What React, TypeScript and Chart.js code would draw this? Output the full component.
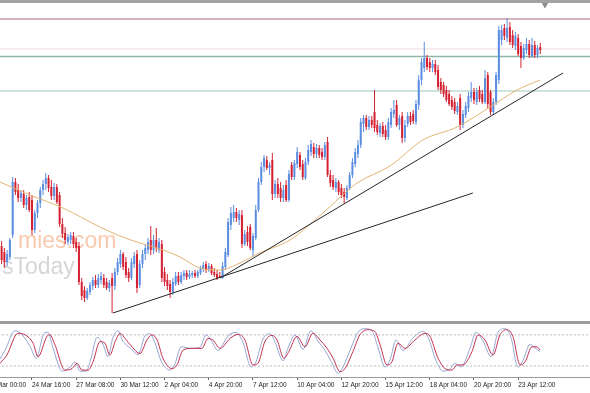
import { useEffect, useRef } from "react";
import { Chart, registerables } from "chart.js";

Chart.register(...registerables);

// ---- price data (H4 candles), values in chart points ----
const opens = [80,84,78,68,73,95,148,140,132,136,125,133,130,100,117,127,140,146,152,143,134,143,135,106,97,88,90,94,88,84,48,40,32,38,44,50,45,50,52,48,42,52,44,58,66,76,68,58,52,66,76,45,66,76,80,90,80,90,80,86,58,50,46,38,46,54,48,54,57,53,55,57,54,57,61,66,60,64,58,56,54,52,63,75,105,112,118,110,115,86,98,103,80,92,120,148,163,170,162,170,136,146,142,132,145,130,165,153,166,175,166,152,168,178,183,176,182,178,173,188,155,150,142,148,142,138,132,142,155,166,176,185,206,212,203,210,218,205,197,204,200,193,205,216,225,205,214,192,206,214,216,208,225,250,262,272,268,262,266,260,248,245,240,236,230,228,218,232,205,215,222,232,238,228,240,236,228,255,238,218,228,250,290,302,292,303,295,284,292,284,272,280,286,274,285,275,283];
const highs = [85,89,82,80,92,153,152,146,140,140,135,138,135,120,130,143,150,157,155,150,147,146,138,112,103,96,98,98,92,88,52,44,42,48,53,55,56,58,56,52,50,57,62,72,80,78,73,62,72,78,80,70,80,86,92,104,95,102,92,90,63,56,50,52,58,58,58,60,60,60,59,60,60,64,68,69,67,66,62,60,58,68,82,112,123,125,122,120,120,100,104,106,97,125,152,168,175,174,168,177,150,152,148,145,150,160,168,170,183,178,170,172,185,190,187,186,185,182,188,193,160,155,152,150,146,142,145,158,172,182,190,212,215,215,214,214,240,210,207,208,205,212,222,230,230,215,218,210,218,218,220,230,255,272,288,275,272,270,270,265,252,248,244,240,234,232,228,236,220,228,238,248,242,242,244,240,260,258,240,232,258,304,305,306,312,308,300,298,296,288,286,292,290,292,289,285,287];
const lows = [68,66,62,64,70,92,135,128,128,122,120,118,95,97,112,122,135,140,138,130,130,126,103,92,86,85,86,82,78,45,30,28,30,35,40,42,42,46,42,40,38,17,40,55,62,60,52,48,50,62,37,42,62,70,76,75,76,78,77,48,44,40,32,35,44,45,46,50,50,51,52,52,52,55,58,57,58,55,53,50,52,51,60,73,100,108,108,105,82,84,84,80,73,90,118,145,158,160,155,130,132,132,128,128,128,128,150,150,162,160,150,150,165,174,172,172,172,170,170,153,143,140,138,135,132,127,130,140,152,163,172,182,198,200,200,202,198,195,193,193,190,190,202,212,203,200,187,188,203,205,206,205,220,245,258,260,258,258,255,240,236,233,228,224,220,216,215,200,202,212,218,228,226,225,228,226,226,222,215,215,225,246,285,290,288,285,282,280,274,262,270,276,272,272,272,272,276];
const closes = [72,70,68,76,90,148,138,132,137,125,132,120,100,117,127,140,146,152,142,134,143,128,106,96,90,93,95,86,82,48,34,32,39,45,50,45,52,54,45,42,47,44,58,68,76,63,55,52,68,74,42,66,76,82,88,80,90,82,88,52,48,44,38,48,54,48,55,57,53,56,57,54,58,62,65,60,64,57,55,52,53,64,78,108,117,118,112,116,86,96,88,82,94,120,148,163,172,162,165,136,146,136,132,140,130,156,153,167,178,163,153,168,180,186,176,182,175,173,185,155,147,143,148,138,135,133,142,155,168,178,185,208,212,203,210,205,202,198,204,196,193,208,218,220,205,212,192,205,214,208,209,226,250,268,272,263,262,266,258,243,240,236,230,226,223,219,224,205,216,224,234,238,230,238,231,228,252,226,218,228,255,300,300,294,302,288,285,294,276,272,282,286,275,285,275,282,280];

// moving average: [bar, value]
const movingAverage: [number, number][] = [[0.4,148],[11.3,135],[23.2,122],[36.6,103],[43.9,94],[51.1,87],[59.4,80],[65.6,73],[72.8,62],[80.1,60],[87.3,67],[93.5,76],[105.4,90],[117.3,117],[129.7,147],[141.6,164],[153.5,190],[165.9,203],[177.8,223],[187.6,240],[195.9,250]];

// trend lines: [bar, value]
const trendLower: [number, number][] = [[41.3,17],[171.6,137]];
const trendUpper: [number, number][] = [[80.1,52],[204.2,257]];

// horizontal levels
const levelValues = [311, 281, 273.5, 239];

// stochastic oscillator: [bar, value]
const stochMain: [number, number][] = [[0,30],[2.2,50],[5.9,88],[8.4,80],[11.3,58],[13.5,35],[16.3,82],[17.8,85],[19.6,55],[22.9,10],[25.8,18],[27.6,28],[29.4,10],[31.6,10],[33.4,35],[35.5,75],[37.7,62],[39.5,38],[41.3,75],[43.1,88],[44.9,68],[47.5,55],[50.4,42],[52.9,78],[54.7,82],[56.5,65],[58.7,30],[62,12],[63.8,25],[66,57],[69.6,54],[72.8,56],[75,80],[76.8,70],[79.3,50],[83,78],[85.8,85],[88.4,65],[91.3,18],[93.1,28],[95.6,72],[98.2,82],[100,66],[102.9,30],[104.7,55],[107.2,80],[110.1,52],[113,88],[115.5,68],[118.1,50],[120.2,30],[122.8,6],[124.6,18],[127.5,55],[130,85],[132.9,92],[135.4,85],[137.3,55],[139.8,18],[141.6,32],[143.8,70],[146.3,50],[149.9,74],[153.5,87],[155.4,75],[158.3,30],[160.8,10],[163.3,14],[165.1,25],[167.3,18],[170.6,55],[172.7,85],[175.3,68],[178.2,38],[180.7,85],[183.2,92],[185.4,75],[187.9,18],[189.7,30],[192.3,62],[194.1,55],[195.9,48]];
const stochSignal: [number, number][] = [[0.4,25],[2.9,41],[6.9,83],[9.5,80],[12.4,64],[14.2,38],[17.4,77],[18.5,80],[20.3,61],[23.9,12],[26.5,15],[28.3,25],[30.1,12],[32.3,12],[34.1,28],[36.6,67],[38.4,64],[40.2,41],[42.1,67],[43.9,83],[45.7,73],[48.2,57],[51.1,44],[53.6,70],[55.4,80],[57.3,70],[59.4,35],[62.7,15],[64.5,22],[66.7,51],[70.3,54],[73.5,54],[75.7,73],[77.5,70],[80.1,54],[83.7,73],[86.6,81],[89.1,70],[92.0,22],[93.8,25],[96.3,67],[98.9,79],[100.7,70],[103.2,35],[105.0,48],[107.9,77],[110.8,57],[113.7,83],[116.3,70],[118.8,54],[121.0,35],[123.5,9],[125.3,15],[128.2,48],[130.7,80],[133.6,90],[136.2,86],[138.0,61],[140.5,22],[142.3,28],[144.5,64],[147.0,54],[150.6,70],[154.3,83],[156.1,77],[159.0,35],[161.5,15],[164.0,12],[165.9,22],[168.0,22],[171.3,48],[173.5,80],[176.0,70],[178.9,41],[181.4,80],[183.9,90],[186.1,77],[188.7,22],[190.5,28],[193.0,57],[194.8,57],[195.9,51]];
const stochLevels = [20, 80];

// time axis
const timeTickBars = [-4, 12, 28, 44, 60, 76, 92, 108, 124, 140, 156, 172, 188];
const timeTickLabels = ["22 Mar 00:00", "24 Mar 16:00", "27 Mar 08:00", "30 Mar 12:00", "2 Apr 04:00", "4 Apr 20:00", "7 Apr 12:00", "10 Apr 04:00", "12 Apr 20:00", "15 Apr 12:00", "18 Apr 04:00", "20 Apr 20:00", "23 Apr 12:00"];

const watermarkTop = "mies.com";
const watermarkBottom = "sToday";

const X_MIN = 0.42;
const X_MAX = 214.0;

export default function App() {
  const mainRef = useRef<HTMLCanvasElement>(null);
  const subRef = useRef<HTMLCanvasElement>(null);

  useEffect(() => {
    const bull = "#5b8de0";
    const bear = "#d42232";
    const colors = opens.map((o, i) => (closes[i] >= o ? bull : bear));
    const levelColors = ["#c99aab", "#f0d9e1", "#8db5a8", "#9dcabb"];
    const levelWidths = [1.6, 1, 1.3, 1.2];
    const font = '"Liberation Sans", Arial, sans-serif';

    const watermark = {
      id: "watermark",
      beforeDatasetsDraw(chart: any) {
        const ctx = chart.ctx;
        ctx.save();
        ctx.font = `23px ${font}`;
        ctx.textBaseline = "alphabetic";
        ctx.fillStyle = "rgba(244,165,118,0.6)";
        ctx.fillText(watermarkTop, 18, 245);
        ctx.fillStyle = "rgba(165,165,165,0.45)";
        ctx.fillText(watermarkBottom, 2, 271);
        ctx.restore();
      },
    };

    const lineDs = (data: [number, number][], color: string, width: number, order: number, extra: any = {}) => ({
      type: "line" as const,
      data: data.map(([x, y]) => ({ x, y })),
      borderColor: color,
      borderWidth: width,
      pointRadius: 0,
      pointHoverRadius: 0,
      fill: false,
      order,
      ...extra,
    });

    const bars = opens.map((_, i) => i);

    const main = new Chart(mainRef.current!, {
      type: "bar",
      data: {
        datasets: [
          ...levelValues.map((v, k) =>
            lineDs([[X_MIN - 5, v], [X_MAX + 5, v]], levelColors[k], levelWidths[k], 10)
          ),
          {
            type: "bar",
            data: bars.map((i) => ({ x: i, y: [lows[i], highs[i]] })),
            backgroundColor: colors,
            barThickness: 1,
            grouped: false,
            inflateAmount: 0,
            order: 3,
          },
          {
            type: "bar",
            data: bars.map((i) => ({ x: i, y: [opens[i], closes[i]] })),
            backgroundColor: colors,
            barThickness: 2,
            minBarLength: 1,
            grouped: false,
            inflateAmount: 0,
            order: 2,
          },
          lineDs(movingAverage, "#e3b473", 1, 1, { tension: 0.4, cubicInterpolationMode: "monotone" }),
          lineDs(trendLower, "#262626", 1, 0),
          lineDs(trendUpper, "#262626", 1, 0),
          {
            type: "line",
            data: [{ x: 197.7, y: 325.3 }],
            showLine: false,
            pointStyle: "triangle",
            rotation: 180,
            pointRadius: 3,
            pointHoverRadius: 3,
            backgroundColor: "#8a8a8a",
            borderColor: "#8a8a8a",
            order: 0,
          },
        ] as any,
      },
      options: {
        responsive: false,
        animation: false,
        events: [],
        layout: { padding: 0, autoPadding: false },
        plugins: { legend: { display: false }, tooltip: { enabled: false } },
        scales: {
          x: { type: "linear", min: X_MIN, max: X_MAX, display: false, offset: false },
          y: { min: 9, max: 327, display: false },
        },
      } as any,
      plugins: [watermark],
    });

    const sub = new Chart(subRef.current!, {
      type: "line",
      data: {
        datasets: [
          ...stochLevels.map((v) =>
            lineDs([[X_MIN - 5, v], [X_MAX + 5, v]], "#b9b9b9", 1, 3, { borderDash: [2, 2] })
          ),
          lineDs(stochMain, "#97a6d2", 1, 2, { tension: 0.4, cubicInterpolationMode: "monotone" }),
          lineDs(stochSignal, "#c2304f", 1, 1, { tension: 0.4, cubicInterpolationMode: "monotone" }),
        ] as any,
      },
      options: {
        responsive: false,
        animation: false,
        events: [],
        layout: { padding: 0, autoPadding: false },
        plugins: { legend: { display: false }, tooltip: { enabled: false } },
        scales: {
          x: {
            type: "linear",
            min: X_MIN,
            max: X_MAX,
            offset: false,
            position: "bottom",
            afterBuildTicks: (s: any) => {
              s.ticks = timeTickBars.map((v) => ({ value: v }));
            },
            afterFit: (s: any) => {
              s.height = 16;
              s.paddingLeft = 0;
              s.paddingRight = 0;
            },
            grid: { display: true, drawOnChartArea: false, drawTicks: true, tickLength: 3, color: "#666" },
            border: { display: true, color: "#9a9a9a" },
            ticks: {
              autoSkip: false,
              maxRotation: 0,
              minRotation: 0,
              align: "start",
              padding: 1,
              color: "#222",
              font: { size: 6.5, family: font },
              callback: (_v: any, idx: number) => timeTickLabels[idx],
            },
          },
          y: { min: -1.3, max: 101, display: false },
        },
      } as any,
    });

    return () => {
      main.destroy();
      sub.destroy();
    };
  }, []);

  return (
    <div
      style={{
        position: "fixed",
        left: 0,
        top: 0,
        width: 590,
        height: 393,
        background: "#fff",
        overflow: "hidden",
      }}
    >
      <div style={{ height: 3, background: "#a3a3a3" }} />
      <canvas ref={mainRef} width={590} height={318} style={{ display: "block" }} />
      <div style={{ height: 3, background: "#9b9b9b" }} />
      <canvas ref={subRef} width={590} height={69} style={{ display: "block" }} />
    </div>
  );
}
